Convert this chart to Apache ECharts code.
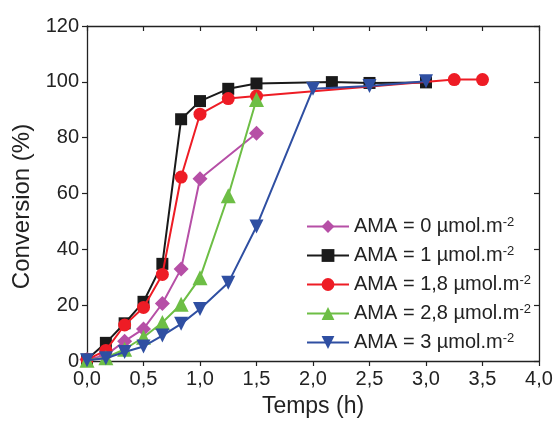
<!DOCTYPE html>
<html><head><meta charset="utf-8">
<script src="https://cdn.jsdelivr.net/npm/echarts@6/dist/echarts.min.js"></script>
<style>html,body{margin:0;padding:0;background:#fff}#c{width:556px;height:423px}</style>
</head><body><div id="c"></div>
<script>
const names = ['AMA = 0 µmol.m-2','AMA = 1 µmol.m-2','AMA = 1,8 µmol.m-2','AMA = 2,8 µmol.m-2','AMA = 3 µmol.m-2'];
const t0 = [0, 0.167, 0.333, 0.5, 0.667, 0.833, 1.0, 1.5];
const v0 = [0.5, 2.1, 7.1, 11.5, 20.6, 33, 65.3, 81.6];
const t1 = [0, 0.167, 0.333, 0.5, 0.667, 0.833, 1.0, 1.25, 1.5, 2.167, 2.5, 3.0];
const v1 = [0.5, 6.5, 13.5, 21.2, 34.8, 86.6, 93.1, 97.5, 99.4, 99.9, 99.6, 99.8];
const t18 = [0, 0.167, 0.333, 0.5, 0.667, 0.833, 1.0, 1.25, 1.5, 3.25, 3.5];
const v18 = [0.5, 3.8, 12.9, 19.2, 31, 65.9, 88.4, 94, 94.9, 100.8, 100.8];
const t28 = [0, 0.167, 0.333, 0.5, 0.667, 0.833, 1.0, 1.25, 1.5];
const v28 = [0.3, 1.2, 4.2, 8.5, 13.8, 20.3, 29.8, 59.2, 93.7];
const t3 = [0, 0.167, 0.333, 0.5, 0.667, 0.833, 1.0, 1.25, 1.5, 2.0, 2.5, 3.0];
const v3 = [0.3, 1.0, 3.2, 5.2, 9.1, 13.3, 18.6, 28, 48.2, 97.5, 98.5, 100.2];
const xTicks = ['0,0','0,5','1,0','1,5','2,0','2,5','3,0','3,5','4,0'];

const colors = ['#B64FA6','#1A1A1A','#EE1C25','#6DBE45','#2F4FA2'];
const symbols = ['diamond','rect','circle','triangle','path://M0,0 L10,0 L5,9 Z'];
const sizes = [15, 12, 13, 15, 14];
const xs = [t0,t1,t18,t28,t3], ys=[v0,v1,v18,v28,v3];
const FONT = 'Liberation Sans';

const series = names.map((n,i)=>({
  name:n, type:'line', xAxisIndex:0, yAxisIndex:0,
  data: xs[i].map((x,j)=>[x, ys[i][j]]),
  symbol: symbols[i], symbolSize: sizes[i],
  lineStyle:{color:colors[i], width:2},
  itemStyle:{color:colors[i]},
  z: [3,4,5,6,7][i]
}));

const line = {show:true, onZero:false, lineStyle:{color:'#222', width:1.3}};
const tickStyle = {color:'#222', width:1.2};

const chart = echarts.init(document.getElementById('c'));
chart.setOption({
  animation:false,
  textStyle:{fontFamily:FONT},
  grid:{left:87, right:17, top:26, bottom:59},
  xAxis:[
    {type:'value', min:0, max:4, interval:0.5, position:'bottom', axisLine:line, splitLine:{show:false},
      name:'Temps (h)', nameLocation:'middle', nameGap:34,
      nameTextStyle:{fontFamily:FONT, fontSize:23, color:'#222'},
      axisTick:{show:true, inside:false, length:5, lineStyle:tickStyle},
      axisLabel:{fontFamily:FONT, fontSize:20, color:'#222', margin:8,
        formatter:(v)=>xTicks[Math.round(v/0.5)]}},
    {type:'value', min:0, max:4, interval:0.5, position:'top', axisLine:line, splitLine:{show:false},
      axisTick:{show:true, inside:true, length:5, lineStyle:tickStyle},
      axisLabel:{show:false}}
  ],
  yAxis:[
    {type:'value', min:0, max:120, interval:20, position:'left', axisLine:line, splitLine:{show:false},
      name:'Conversion (%)', nameLocation:'middle', nameGap:50,
      nameTextStyle:{fontFamily:FONT, fontSize:24, color:'#222', padding:[0,26,0,0]},
      axisTick:{show:true, inside:false, length:5, lineStyle:tickStyle},
      axisLabel:{fontFamily:FONT, fontSize:20, color:'#222', margin:8}},
    {type:'value', min:0, max:120, interval:20, position:'right', axisLine:line, splitLine:{show:false},
      axisTick:{show:true, inside:true, length:5, lineStyle:tickStyle},
      axisLabel:{show:false}}
  ],
  legend:{
    orient:'vertical', left:301, top:211, itemWidth:42, itemHeight:16, itemGap:7,
    data:names,
    formatter:(n)=>n.replace(/-2$/,'') + '{sup|-2}',
    textStyle:{fontFamily:FONT, fontSize:20, color:'#222', lineHeight:21,
      rich:{sup:{fontFamily:FONT, fontSize:13, color:'#222', verticalAlign:'top', lineHeight:21, padding:[0,0,9,0]}}}
  },
  series: series
});
</script></body></html>
